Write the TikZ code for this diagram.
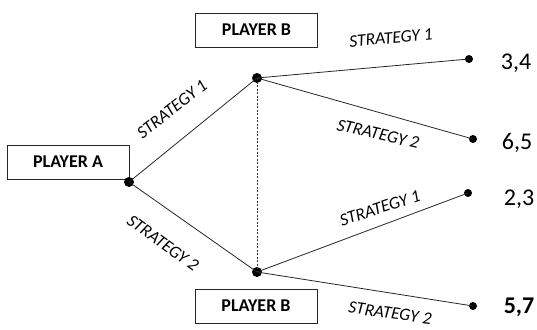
\documentclass[tikz,border=0pt]{standalone}
\usepackage{fontspec}
\setmainfont{Carlito}
\begin{document}
\begin{tikzpicture}[x=1pt,y=-1pt,
  playerbox/.style={draw=black!85,line width=0.9pt,minimum width=122pt,minimum height=34pt,inner sep=0pt,font=\fontsize{18}{20}\selectfont\bfseries},
  bigdot/.style={circle,fill=black,inner sep=0pt,minimum size=10pt},
  enddot/.style={circle,fill=black,inner sep=0pt,minimum size=8pt},
  edge/.style={line width=0.8pt,black!85},
  strat/.style={font=\fontsize{17.5}{20}\selectfont\itshape,inner sep=0pt},
  payoff/.style={font=\fontsize{24}{26}\selectfont,inner sep=0pt}]
\useasboundingbox (0,0) rectangle (537,329);
\node[playerbox] (pa) at (68,162) {PLAYER A};
\node[playerbox] (pbt) at (256.5,30) {PLAYER B};
\node[playerbox] (pbb) at (256,306) {PLAYER B};
\node[bigdot] (a) at (129,182) {};
\node[bigdot] (b1) at (257,78) {};
\node[bigdot] (b2) at (257,272) {};
\node[enddot] (t1) at (469,59) {};
\node[enddot] (t2) at (473,139) {};
\node[enddot] (t3) at (468,193) {};
\node[enddot] (t4) at (473,306) {};
\draw[edge] (a.center) -- (b1.center);
\draw[edge] (a.center) -- (b2.center);
\draw[edge] (b1.center) -- (t1.center);
\draw[edge] (b1.center) -- (t2.center);
\draw[edge] (b2.center) -- (t3.center);
\draw[edge] (b2.center) -- (t4.center);
\draw[line width=0.7pt,black!80,dash pattern=on 2pt off 1.5pt] (b1.center) -- (b2.center);
\node[strat,rotate=38] (s1) at (172,109) {STRATEGY 1};
\node[strat,rotate=-36] (s2) at (163,243) {STRATEGY 2};
\node[strat,rotate=5] (s3) at (391,38) {STRATEGY 1};
\node[strat,rotate=-13] (s4) at (378,134) {STRATEGY 2};
\node[strat,rotate=18] (s5) at (380,208) {STRATEGY 1};
\node[strat,rotate=-8] (s6) at (390,313) {STRATEGY 2};
\node[payoff] (p1) at (516,63) {3,4};
\node[payoff] (p2) at (517,143) {6,5};
\node[payoff] (p3) at (519,199) {2,3};
\node[payoff,font=\fontsize{24}{26}\selectfont\bfseries] (p4) at (519,307) {5,7};
\end{tikzpicture}
\end{document}
